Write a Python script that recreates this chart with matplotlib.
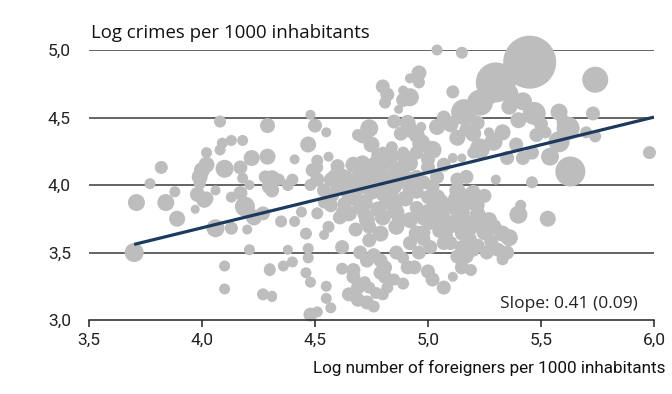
import matplotlib
matplotlib.use("Agg")
import matplotlib.pyplot as plt
import numpy as np

# Data (log foreigners, log crimes, bubble diameter in px)
x_vals = [
    3.70, 3.71, 3.84, 3.89, 3.88, 3.77, 3.82, 3.98, 4.01, 3.97, 4.06, 4.06, 4.13, 4.20, 4.21,
    4.10, 4.10, 4.27, 4.31, 4.30, 4.13, 4.19, 4.23, 4.27, 4.30, 4.17, 3.99, 4.08, 4.29, 4.18,
    4.13, 4.09, 4.08, 4.02, 4.29, 4.22, 4.17, 4.10, 4.02, 4.00, 3.99, 4.18, 4.21, 4.31, 4.31,
    4.02, 4.48, 4.50, 4.55, 4.47, 4.41, 4.56, 4.60, 4.51, 4.51, 4.28, 4.34, 4.38, 4.49, 4.51,
    4.58, 4.64, 4.40,
    5.04, 5.15, 4.96, 4.96, 4.92, 4.80, 4.82, 4.81, 4.89, 4.92, 4.89, 4.87, 5.11, 4.71, 4.74,
    4.75, 4.91, 4.97, 4.95, 5.04, 4.97, 5.02, 4.84, 4.80, 4.89, 4.71, 4.77, 4.83, 4.92, 5.00,
    5.07, 5.11, 5.15, 5.17, 5.04, 4.95, 5.13, 4.57, 4.62, 4.72, 4.69, 4.92, 5.00, 4.86, 4.77,
    4.70, 4.65, 4.72, 4.80, 4.85, 4.92, 4.65, 4.73, 4.80, 4.85, 4.54, 4.51, 4.61, 4.56, 4.54,
    4.62, 4.74, 4.79, 4.86, 4.92, 4.95, 4.92, 4.98, 5.04, 5.02, 5.13, 5.17, 5.20, 5.10, 5.07,
    5.13, 5.19, 5.01, 5.10, 5.15, 5.20, 5.20, 5.17, 5.22, 4.70, 4.86, 4.96, 4.74,
    4.30, 4.36, 4.40, 4.46, 4.48, 4.55, 4.55, 4.57, 4.48, 4.51, 4.65, 4.69, 4.69, 4.73, 4.76,
    4.67, 4.67, 4.73, 4.76, 4.79, 4.81, 4.79, 4.81, 4.82, 4.80, 4.74, 4.89, 4.89, 4.91, 4.94,
    5.00, 5.02, 5.07, 5.11, 5.13, 4.31, 4.46, 4.47, 4.47, 4.38, 4.35, 4.41, 4.44, 4.68, 4.87,
    4.98, 5.01, 5.15, 5.07, 5.00, 4.60, 4.54, 4.48, 5.15, 5.17,
    5.45, 5.30, 5.23, 5.16, 5.27, 5.36, 5.33, 5.27, 5.47, 5.58, 5.62, 5.58, 5.73, 5.74, 5.70,
    5.74, 5.98, 5.63, 5.54, 5.46, 5.42, 5.35, 5.39, 5.48, 5.52, 5.30, 5.46, 5.23, 5.29,
    5.41, 5.40, 5.53, 5.19, 5.22, 5.27, 5.29, 5.33, 5.36, 5.35, 5.31, 5.26, 5.19, 5.33,
    4.66, 4.70, 4.76, 4.82, 4.88, 4.90, 4.68, 4.75, 4.82, 4.90, 4.78, 4.86, 4.95, 4.70, 4.63,
    4.84, 4.78, 4.95, 4.98, 4.95, 4.58, 4.62,
    5.05, 5.10, 5.15, 5.22, 5.25, 5.18, 5.08, 5.12, 5.25, 5.05, 5.20, 5.28, 5.03,
    5.10, 5.13, 5.20, 5.07, 4.88, 4.85, 5.40, 5.50, 5.60, 5.42, 5.36,
    4.72, 4.85, 4.62, 4.77,
    4.62, 4.67, 4.74, 4.80, 4.86, 4.90, 4.60, 4.72, 4.57, 4.84,
    5.00, 5.12, 5.18, 5.24, 5.06, 4.98, 5.22,
]
y_vals = [
    3.50, 3.87, 3.87, 3.75, 3.95, 4.01, 4.13, 3.93, 3.89, 3.82, 3.96, 3.68, 3.68, 3.67, 3.52,
    3.40, 3.23, 3.19, 3.18, 3.38, 3.91, 3.84, 3.76, 3.79, 3.99, 3.94, 4.01, 4.47, 4.44, 4.33,
    4.33, 4.31, 4.26, 4.24, 4.21, 4.20, 4.13, 4.12, 4.15, 4.11, 4.06, 4.05, 4.00, 4.05, 3.96,
    3.90, 4.52, 4.44, 4.39, 4.30, 4.19, 4.21, 4.14, 4.18, 4.13, 4.06, 4.04, 4.00, 4.11, 4.04,
    4.06, 4.06, 4.04,
    5.00, 4.98, 4.83, 4.76, 4.79, 4.73, 4.67, 4.61, 4.70, 4.65, 4.63, 4.56, 4.69, 4.36, 4.42,
    4.30, 4.46, 4.43, 4.37, 4.43, 4.31, 4.26, 4.28, 4.24, 4.24, 4.16, 4.16, 4.19, 4.16, 4.19,
    4.15, 4.20, 4.20, 4.06, 4.06, 4.06, 4.04, 4.04, 4.07, 4.13, 4.37, 4.41, 4.13, 4.09, 4.04,
    3.99, 3.94, 3.87, 3.94, 3.99, 3.99, 3.79, 3.74, 3.76, 3.84, 3.87, 3.79, 3.76, 3.69, 3.63,
    3.54, 3.59, 3.64, 3.69, 3.74, 3.64, 3.57, 3.76, 3.91, 3.99, 3.96, 3.89, 3.87, 3.84, 3.74,
    3.74, 3.69, 3.54, 3.57, 3.54, 3.52, 4.24, 4.41, 4.46, 3.50, 3.50, 3.50, 3.69,
    3.37, 3.40, 3.43, 3.35, 3.28, 3.25, 3.16, 3.09, 3.04, 3.06, 3.19, 3.24, 3.15, 3.13, 3.10,
    3.37, 3.32, 3.44, 3.48, 3.44, 3.39, 3.35, 3.32, 3.24, 3.19, 3.24, 3.27, 3.46, 3.39, 3.39,
    3.36, 3.30, 3.24, 3.32, 3.47, 3.17, 3.64, 3.53, 3.46, 3.52, 3.73, 3.73, 3.80, 3.67, 3.76,
    3.65, 3.72, 3.64, 3.57, 3.91, 3.98, 3.96, 4.00, 3.39, 3.47,
    4.91, 4.76, 4.61, 4.54, 4.67, 4.58, 4.39, 4.39, 4.53, 4.54, 4.42, 4.32, 4.53, 4.36, 4.39,
    4.78, 4.24, 4.10, 4.21, 4.24, 4.20, 4.20, 4.30, 4.37, 4.39, 4.04, 4.02, 4.27, 4.32,
    3.85, 3.78, 3.75, 3.93, 3.85, 3.74, 3.69, 3.64, 3.61, 3.50, 3.52, 3.50, 3.37, 3.45,
    4.02, 4.08, 4.10, 4.05, 4.12, 4.05, 3.90, 3.95, 3.88, 3.90, 3.82, 3.80, 3.83, 3.83, 3.86,
    4.22, 4.22, 4.24, 4.02, 3.95, 3.92, 3.80,
    3.80, 3.70, 3.80, 3.78, 3.65, 3.60, 3.62, 3.90, 3.92, 3.66, 3.95, 3.58, 3.85,
    4.45, 4.35, 4.38, 4.50, 4.38, 4.47, 4.48, 4.45, 4.47, 4.62, 4.68,
    3.28, 3.30, 3.38, 3.20,
    4.00, 4.15, 4.02, 4.15, 4.02, 4.20, 4.10, 3.78, 3.85, 3.92,
    3.80, 3.85, 3.72, 3.70, 3.88, 3.60, 3.55,
]
sizes = [
    19, 17, 17, 16, 11, 11, 13, 15, 16, 9, 10, 18, 13, 10, 11,
    11, 11, 12, 10, 11, 11, 20, 16, 14, 16, 14, 12, 12, 15, 11,
    11, 11, 11, 11, 16, 16, 14, 18, 16, 16, 16, 11, 10, 16, 14,
    14, 10, 14, 10, 16, 10, 10, 14, 12, 12, 13, 12, 12, 14, 14,
    13, 13, 12,
    11, 12, 15, 12, 10, 14, 14, 12, 10, 18, 14, 9, 13, 14, 18,
    16, 16, 10, 16, 16, 18, 18, 12, 12, 12, 16, 16, 16, 16, 14,
    14, 10, 9, 14, 14, 14, 14, 14, 14, 16, 12, 16, 14, 16, 16,
    16, 16, 16, 16, 16, 16, 16, 16, 16, 16, 12, 12, 14, 12, 10,
    14, 14, 16, 16, 16, 16, 14, 16, 16, 14, 16, 16, 16, 16, 16,
    16, 16, 14, 14, 14, 14, 12, 14, 14, 14, 14, 14, 14,
    12, 11, 11, 11, 11, 11, 11, 11, 14, 11, 14, 14, 14, 14, 12,
    14, 14, 14, 14, 14, 14, 14, 14, 12, 12, 12, 12, 12, 14, 14,
    14, 14, 14, 10, 14, 10, 12, 11, 11, 10, 12, 11, 11, 14, 14,
    14, 14, 14, 14, 14, 14, 14, 12, 14, 14,
    53, 40, 26, 26, 20, 16, 16, 10, 23, 17, 23, 21, 14, 12, 12,
    26, 13, 30, 18, 14, 14, 14, 14, 14, 12, 10, 12, 20, 18,
    11, 18, 16, 15, 14, 16, 16, 16, 17, 14, 14, 14, 12, 12,
    16, 16, 16, 16, 16, 16, 16, 16, 16, 16, 16, 16, 14, 14, 14,
    14, 14, 14, 14, 14, 12, 12,
    16, 16, 16, 16, 16, 16, 14, 14, 14, 14, 14, 14, 14,
    16, 16, 16, 14, 14, 14, 16, 14, 14, 18, 18,
    12, 12, 12, 12,
    16, 16, 16, 16, 16, 16, 14, 14, 14, 14,
    16, 16, 16, 14, 14, 14, 14,
]

slope = 0.41
intercept = 2.043
line_x = [3.7, 6.0]

x_ticks = [3.5, 4.0, 4.5, 5.0, 5.5, 6.0]
y_ticks = [3.0, 3.5, 4.0, 4.5, 5.0]

DPI = 100
fig = plt.figure(figsize=(6.72, 3.94), dpi=DPI)
ax = fig.add_axes([0.1324, 0.1878, 0.8408, 0.6853])

tick_font = "Roboto"

# horizontal grid lines
for yv in y_ticks[1:]:
    ax.axhline(yv, color="#3a3a3a", lw=1.1, zorder=1)

# bubbles: diameter px -> points^2
s = (np.array(sizes) * 72.0 / DPI) ** 2
ax.scatter(x_vals, y_vals, s=s, color="#bdbdbd", edgecolors="none",
           zorder=2, clip_on=False)

lx = np.array(line_x)
ax.plot(lx, intercept + slope * lx, color="#1c3a5e", lw=2.3, zorder=3,
        solid_capstyle="butt")

ax.set_xlim(3.5, 6.0)
ax.set_ylim(3.0, 5.0)

for side in ["top", "right", "left"]:
    ax.spines[side].set_visible(False)
ax.spines["bottom"].set_color("#222222")
ax.spines["bottom"].set_linewidth(1.1)

ax.set_xticks(x_ticks)
ax.set_yticks(y_ticks)
ax.set_xticklabels([f"{v:.1f}".replace(".", ",") for v in x_ticks],
                   fontsize=12.5, family=tick_font, color="#222222")
ax.set_yticklabels([f"{v:.1f}".replace(".", ",") for v in y_ticks],
                   fontsize=12.5, family=tick_font, color="#222222")
ax.tick_params(axis="x", direction="out", length=5, width=1.1, color="#222222", pad=4)
ax.tick_params(axis="y", length=0, pad=13)

fig.text(0.1355, 0.916, "Log crimes per 1000 inhabitants", fontsize=13.4,
         family="Open Sans", color="#111111", ha="left", va="center")
fig.text(0.990, 0.066, "Log number of foreigners per 1000 inhabitants",
         fontsize=12.3, family=tick_font, color="#111111", ha="right", va="center")
ax.text(5.93, 3.12, "Slope: 0.41 (0.09)", fontsize=12.5, family="Open Sans",
        color="#222222", ha="right", va="center")

fig.savefig("out.png", dpi=DPI)
